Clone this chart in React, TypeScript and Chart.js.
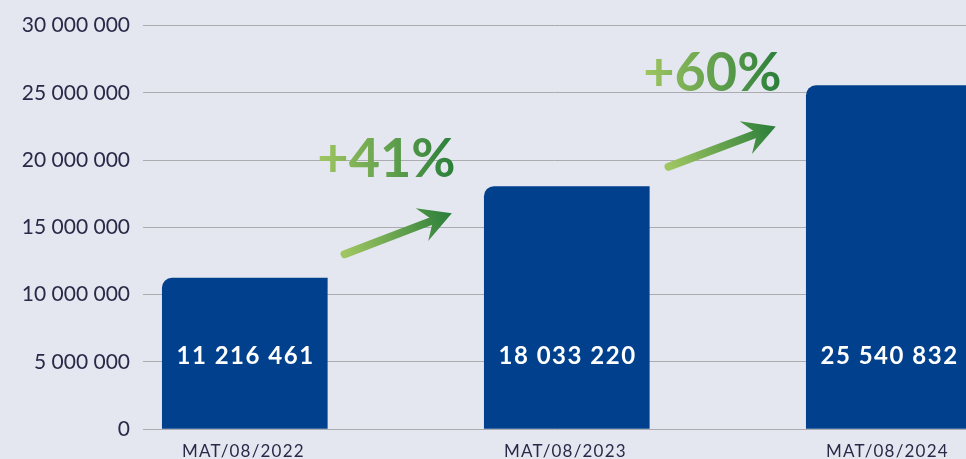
import React, { useEffect, useRef } from "react";
import { Chart, registerables } from "chart.js";

Chart.register(...registerables);

// ---- data ----
const categories = ["MAT/08/2022", "MAT/08/2023", "MAT/08/2024"];
const values = [11216461, 18033220, 25540832];
const yMin = 0;
const yMax = 30000000;
const yStep = 5000000;
const growthLabels = ["+41%", "+60%"];
// annotation anchors in data space: [category index, value]
const growthTextPos = [
  [0.44, 20000000],
  [1.452, 26400000],
];
const arrowTail = [
  [0.31, 13000000],
  [1.316, 19500000],
];
const arrowTip = [
  [0.643, 16050000],
  [1.649, 22500000],
];

const fmt = (v: number) =>
  Math.round(v)
    .toString()
    .replace(/\B(?=(\d{3})+(?!\d))/g, " ");

const TEXT = "#2A2A48";
const BAR = "#00408C";
const BG = "#E4E7F0";
const LIGHT_GREEN = "#A0C662";
const DARK_GREEN = "#2A7E3A";

function drawArrow(ctx: CanvasRenderingContext2D, x0: number, y0: number, x1: number, y1: number) {
  const dx = x1 - x0;
  const dy = y1 - y0;
  const L = Math.hypot(dx, dy);
  const ux = dx / L;
  const uy = dy / L;
  const nx = -uy;
  const ny = ux;
  const grad = ctx.createLinearGradient(x0, y0, x1, y1);
  grad.addColorStop(0, LIGHT_GREEN);
  grad.addColorStop(1, DARK_GREEN);
  const notch = 20;
  const hl = 32;
  const hw = 17.5;
  ctx.strokeStyle = grad;
  ctx.lineWidth = 8;
  ctx.lineCap = "round";
  ctx.beginPath();
  ctx.moveTo(x0, y0);
  ctx.lineTo(x1 - ux * (notch - 2), y1 - uy * (notch - 2));
  ctx.stroke();
  ctx.fillStyle = grad;
  ctx.beginPath();
  ctx.moveTo(x1, y1);
  ctx.lineTo(x1 - ux * hl + nx * hw, y1 - uy * hl + ny * hw);
  ctx.lineTo(x1 - ux * notch, y1 - uy * notch);
  ctx.lineTo(x1 - ux * hl - nx * hw, y1 - uy * hl - ny * hw);
  ctx.closePath();
  ctx.fill();
}

const overlay = {
  id: "overlay",
  afterDatasetsDraw(chart: any) {
    const ctx: CanvasRenderingContext2D = chart.ctx;
    const xs = chart.scales.x;
    const ys = chart.scales.y;
    const base = ys.getPixelForValue(0);

    // value labels inside bars
    ctx.save();
    ctx.fillStyle = "#FFFFFF";
    ctx.font = "bold 24px Lato";
    ctx.textAlign = "center";
    ctx.textBaseline = "middle";
    (ctx as any).letterSpacing = "1.5px";
    values.forEach((v, i) => {
      ctx.fillText(fmt(v), xs.getPixelForValue(i) + 0.75, base - 73);
    });
    ctx.restore();

    // category labels
    ctx.save();
    ctx.fillStyle = TEXT;
    ctx.font = "17px Lato";
    ctx.textAlign = "center";
    ctx.textBaseline = "middle";
    (ctx as any).letterSpacing = "1.2px";
    categories.forEach((c, i) => {
      ctx.fillText(c, xs.getPixelForValue(i) - 1.4, base + 22.5);
    });
    ctx.restore();

    // arrows
    ctx.save();
    arrowTail.forEach((t, i) => {
      const h = arrowTip[i];
      drawArrow(
        ctx,
        xs.getPixelForValue(t[0]),
        ys.getPixelForValue(t[1]),
        xs.getPixelForValue(h[0]),
        ys.getPixelForValue(h[1])
      );
    });
    ctx.restore();

    // growth labels
    ctx.save();
    ctx.font = "bold 54px Lato";
    ctx.textAlign = "left";
    ctx.textBaseline = "middle";
    growthLabels.forEach((txt, i) => {
      const p = growthTextPos[i];
      const cx = xs.getPixelForValue(p[0]);
      const cy = ys.getPixelForValue(p[1]);
      const w = ctx.measureText(txt).width;
      const left = cx - w / 2;
      const grad = ctx.createLinearGradient(left, 0, left + w, 0);
      grad.addColorStop(0, LIGHT_GREEN);
      grad.addColorStop(1, DARK_GREEN);
      ctx.fillStyle = grad;
      ctx.fillText(txt, left, cy);
    });
    ctx.restore();
  },
};

export default function App() {
  const ref = useRef<HTMLCanvasElement | null>(null);

  useEffect(() => {
    if (!ref.current) return;
    const chart = new Chart(ref.current, {
      type: "bar",
      data: {
        datasets: [
          {
            data: values.map((v, i) => ({ x: i, y: v })),
            backgroundColor: BAR,
            barThickness: 165,
            borderRadius: { topLeft: 10, topRight: 0, bottomLeft: 0, bottomRight: 0 },
            borderSkipped: "start",
          },
        ],
      },
      options: {
        animation: false,
        responsive: false,
        devicePixelRatio: 1,
        layout: { padding: { top: 24, bottom: 30, left: 0, right: 0 } },
        plugins: {
          legend: { display: false },
          tooltip: { enabled: false },
        },
        scales: {
          x: {
            type: "linear",
            display: false,
            offset: false,
            min: -0.3161,
            max: 2.2398,
            grid: { display: false },
          },
          y: {
            min: yMin,
            max: yMax,
            border: { display: false },
            grid: { color: "#ABACB0", lineWidth: 1, drawTicks: false },
            ticks: {
              stepSize: yStep,
              padding: 13,
              color: TEXT,
              font: { family: "Lato", size: 21, weight: "400" },
              callback: (v: any) => fmt(Number(v)),
            },
            afterFit: (scale: any) => {
              scale.width = 143;
            },
          },
        },
      },
      plugins: [overlay],
    } as any);
    return () => chart.destroy();
  }, []);

  return (
    <div
      style={{
        position: "fixed",
        left: 0,
        top: 0,
        width: 966,
        height: 459,
        overflow: "hidden",
        background: BG,
      }}
    >
      <canvas ref={ref} width={966} height={459} style={{ display: "block" }} />
    </div>
  );
}
